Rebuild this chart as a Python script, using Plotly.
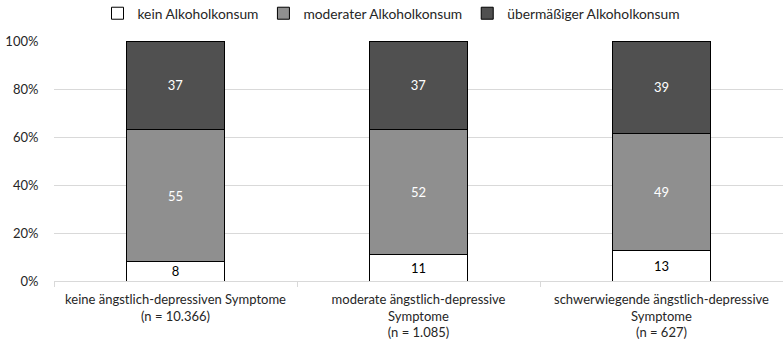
import plotly.graph_objects as go

categories = [
    "keine ängstlich-depressiven Symptome<br>(n = 10.366)",
    "moderate ängstlich-depressive<br>Symptome<br>(n = 1.085)",
    "schwerwiegende ängstlich-depressive<br>Symptome<br>(n = 627)",
]
series_names = ["kein Alkoholkonsum", "moderater Alkoholkonsum", "übermäßiger Alkoholkonsum"]
kein = [8, 11, 13]
moderat = [55, 52, 49]
uebermaessig = [37, 37, 39]
y_ticks = [0, 20, 40, 60, 80, 100]

FONT = "Lato"
FS = 13
fills = ["#ffffff", "#8f8f8f", "#505050"]
txtcol = ["#000000", "#ffffff", "#ffffff"]

fig = go.Figure()
for name, vals, fc, tc in zip(series_names, [kein, moderat, uebermaessig], fills, txtcol):
    fig.add_trace(go.Bar(
        x=categories, y=vals, name=name,
        marker=dict(color=fc, line=dict(color="#000000", width=1)),
        text=[str(v) for v in vals], texttemplate="%{text}",
        textposition="inside", insidetextanchor="middle", textangle=0,
        textfont=dict(color=tc, size=FS, family=FONT),
        constraintext="none",
    ))

fig.update_layout(
    barmode="stack", barnorm="percent", bargap=0.6,
    width=783, height=349,
    margin=dict(l=54, r=0, t=41, b=68, autoexpand=False),
    paper_bgcolor="white", plot_bgcolor="white",
    font=dict(family=FONT, size=FS, color="#262626"),
    legend=dict(orientation="h", xref="container", x=0.5, xanchor="center",
                yref="container", y=0.962, yanchor="middle",
                font=dict(size=13.8, family=FONT, color="#262626"),
                itemwidth=30, traceorder="normal", tracegroupgap=0),
    showlegend=True,
)
fig.update_xaxes(
    showline=True, linecolor="#d9d9d9", linewidth=1, automargin=False,
    ticks="outside", tickson="boundaries", ticklen=5, tickcolor="#d9d9d9",
    ticklabelstandoff=6,
    tickfont=dict(size=FS, family=FONT, color="#262626"),
)
fig.update_yaxes(
    range=[0, 100], tickvals=y_ticks, ticktext=[f"{t}%" for t in y_ticks],
    showgrid=True, gridcolor="#d9d9d9", gridwidth=1, automargin=False,
    zeroline=False, showline=False,
    tickfont=dict(size=FS, family=FONT, color="#262626"),
    ticks="outside", ticklen=12, tickcolor="rgba(0,0,0,0)",
)

fig.write_html("out.html", config={"displayModeBar": False},
               post_script="document.body.style.margin='0';")
